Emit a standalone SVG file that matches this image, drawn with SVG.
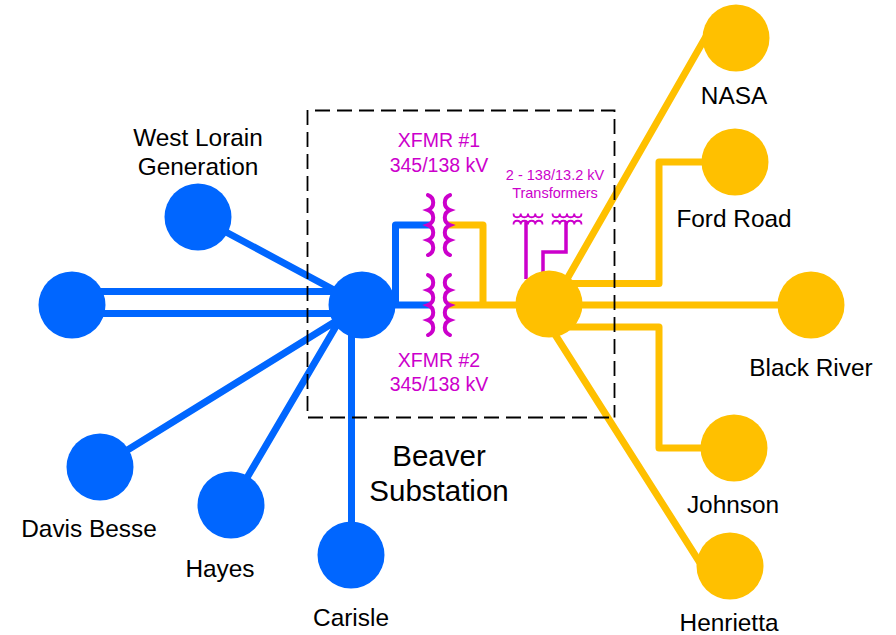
<svg xmlns="http://www.w3.org/2000/svg" width="896" height="635" viewBox="0 0 896 635">
<style>
text{font-family:"Liberation Sans",Arial,sans-serif;text-anchor:middle;fill:#000}
.lb{font-size:24.4px}
.mg{fill:#CC00CC;font-size:19.5px}
.sm{fill:#CC00CC;font-size:14.5px}
.big{font-size:29.5px}
.b{fill:none;stroke:#0066FF;stroke-width:7;stroke-linejoin:round}
.g{fill:none;stroke:#FFC000;stroke-width:7;stroke-linejoin:round}
.m{fill:none;stroke:#CC00CC;stroke-width:4;stroke-linecap:round}
.mt{fill:none;stroke:#CC00CC;stroke-width:1.800}
.mv{fill:none;stroke:#CC00CC;stroke-width:3.500}
.bn{fill:#0066FF}.gn{fill:#FFC000}
</style>
<rect width="896" height="635" fill="#fff"/>
<g id="connectors">
<path class="b" d="M198 217L362 305M72 291.500H362M72 313.500H362M100 467L362 305M231 505L345 311M351.500 555V305M362 305H430M395.500 305V225H430"/>
<path class="g" d="M447 225H483V305M447 305H549M555 300L708 33M549 283.500H659V162H735M549 305H811M549 327H659V448H734M549 325L702 566"/>
<path class="mv" d="M526 221V279M566 221V252H543V272"/>
</g>
<g id="beaver-boundary"><path d="M315 110.500H614.500V417.500M307.500 110V417.500H614.500" fill="none" stroke="#000" stroke-width="1.800" stroke-dasharray="15 7"/></g>
<g id="xfmr1"><path class="m" d="M428 195A8 8 0 0 1 428 210A8 8 0 0 1 428 225A8 8 0 0 1 428 240A8 8 0 0 1 428 255M450 195A8 8 0 0 0 450 210A8 8 0 0 0 450 225A8 8 0 0 0 450 240A8 8 0 0 0 450 255"/></g>
<g id="xfmr2"><path class="m" d="M428 275A8 8 0 0 1 428 290A8 8 0 0 1 428 305A8 8 0 0 1 428 320A8 8 0 0 1 428 335M450 275A8 8 0 0 0 450 290A8 8 0 0 0 450 305A8 8 0 0 0 450 320A8 8 0 0 0 450 335"/></g>
<g id="xfmr3"><path class="mt" d="M513.500 213.500c0 5 7.250 5 7.250 0c0 5 7.250 5 7.250 0c0 5 7.250 5 7.250 0c0 5 7.250 5 7.250 0M513.500 224.500c0 -5 7.250 -5 7.250 0c0 -5 7.250 -5 7.250 0c0 -5 7.250 -5 7.250 0c0 -5 7.250 -5 7.250 0"/></g>
<g id="xfmr4"><path class="mt" d="M552.500 213.500c0 5 7.250 5 7.250 0c0 5 7.250 5 7.250 0c0 5 7.250 5 7.250 0c0 5 7.250 5 7.250 0M552.500 224.500c0 -5 7.250 -5 7.250 0c0 -5 7.250 -5 7.250 0c0 -5 7.250 -5 7.250 0c0 -5 7.250 -5 7.250 0"/></g>
<g id="west-lorain"><circle class="bn" cx="198" cy="217" r="33.500"/><text class="lb" x="198" y="146">West Lorain</text><text class="lb" x="198" y="175">Generation</text></g>
<g id="left-node"><circle class="bn" cx="72" cy="305" r="33.500"/></g>
<g id="hub-345"><circle class="bn" cx="362" cy="305" r="33.500"/></g>
<g id="davis-besse"><circle class="bn" cx="100" cy="467" r="33.500"/><text class="lb" x="89" y="537">Davis Besse</text></g>
<g id="hayes"><circle class="bn" cx="231" cy="505" r="33.500"/><text class="lb" x="220" y="577">Hayes</text></g>
<g id="carisle"><circle class="bn" cx="351" cy="555" r="33.500"/><text class="lb" x="351" y="626">Carisle</text></g>
<g id="hub-138"><circle class="gn" cx="549" cy="304" r="33.500"/></g>
<g id="nasa"><circle class="gn" cx="736" cy="38" r="33.500"/><text class="lb" x="734" y="104">NASA</text></g>
<g id="ford-road"><circle class="gn" cx="735" cy="162" r="33.500"/><text class="lb" x="734" y="227">Ford Road</text></g>
<g id="black-river"><circle class="gn" cx="811" cy="305" r="33.500"/><text class="lb" x="811" y="376">Black River</text></g>
<g id="johnson"><circle class="gn" cx="734" cy="448" r="33.500"/><text class="lb" x="733" y="513">Johnson</text></g>
<g id="henrietta"><circle class="gn" cx="730" cy="566" r="33.500"/><text class="lb" x="729" y="631">Henrietta</text></g>
<g id="labels">
<text class="mg" x="439" y="147">XFMR #1</text><text class="mg" x="439" y="172">345/138 kV</text>
<text class="mg" x="439" y="367">XFMR #2</text><text class="mg" x="439" y="391">345/138 kV</text>
<text class="sm" x="555" y="180">2 - 138/13.2 kV</text><text class="sm" x="555" y="198">Transformers</text>
<text class="big" x="439" y="466">Beaver</text><text class="big" x="439" y="501">Substation</text>
</g>
</svg>
